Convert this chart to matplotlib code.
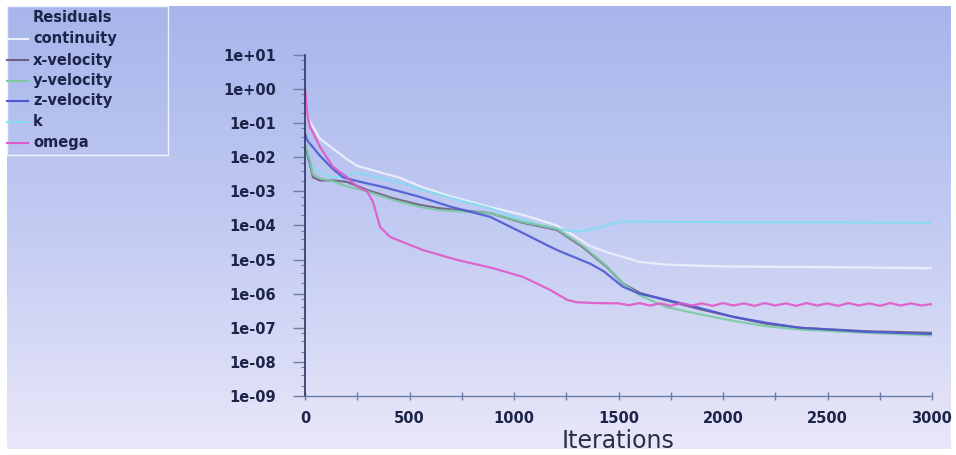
import matplotlib

matplotlib.use("Agg")
import matplotlib.pyplot as plt
import numpy as np
from matplotlib.lines import Line2D
from matplotlib.patches import Rectangle
from matplotlib.ticker import FixedLocator, LogLocator, NullFormatter

W, H = 956, 455

# residual histories (iteration, residual)
CONT_IT = [0, 10, 24, 72, 134, 200, 250, 455, 565, 700, 885, 1050, 1206, 1300, 1364,
           1450, 1521, 1603, 1732, 2000, 2500, 3000]
CONT_VAL = [4.0e-01, 1.8e-01, 1.1e-01, 3.5e-02, 1.8e-02, 8.9e-03, 5.6e-03, 2.5e-03,
            1.3e-03, 7.1e-04, 3.5e-04, 2.0e-04, 1.0e-04, 4.5e-05, 2.5e-05, 1.6e-05,
            1.2e-05, 8.5e-06, 7.1e-06, 6.3e-06, 6.0e-06, 5.6e-06]

XVEL_IT = [0, 10, 24, 38, 72, 134, 201, 297, 420, 550, 646, 885, 1043, 1206, 1330,
           1445, 1521, 1603, 1732, 1890, 2048, 2211, 2368, 2689, 3000]
XVEL_VAL = [2.0e-02, 1.35e-02, 6.3e-03, 2.6e-03, 2.1e-03, 2.1e-03, 1.9e-03, 1.1e-03,
            6.3e-04, 4.0e-04, 3.2e-04, 2.3e-04, 1.2e-04, 7.4e-05, 2.3e-05, 6.0e-06,
            2.0e-06, 1.05e-06, 6.3e-07, 3.5e-07, 2.1e-07, 1.3e-07, 1.0e-07, 7.9e-08,
            7.1e-08]

YVEL_IT = [0, 10, 24, 38, 72, 134, 201, 297, 420, 550, 646, 885, 1043, 1206, 1330,
           1445, 1521, 1603, 1732, 1890, 2048, 2211, 2368, 2689, 3000]
YVEL_VAL = [2.5e-02, 1.6e-02, 7.9e-03, 3.2e-03, 2.4e-03, 2.0e-03, 1.4e-03, 1.0e-03,
            5.6e-04, 3.5e-04, 2.8e-04, 2.3e-04, 1.26e-04, 7.9e-05, 2.5e-05, 6.3e-06,
            2.0e-06, 8.9e-07, 4.0e-07, 2.5e-07, 1.6e-07, 1.1e-07, 8.9e-08, 7.1e-08,
            6.0e-08]

ZVEL_IT = [0, 10, 24, 72, 134, 182, 250, 373, 550, 700, 885, 1043, 1150, 1206, 1300,
           1364, 1430, 1521, 1600, 1732, 1890, 2048, 2211, 2368, 2689, 3000]
ZVEL_VAL = [5.0e-02, 3.2e-02, 2.5e-02, 1.1e-02, 4.5e-03, 2.6e-03, 2.0e-03, 1.35e-03,
            6.9e-04, 3.5e-04, 1.8e-04, 6.0e-05, 2.8e-05, 1.9e-05, 1.1e-05, 7.6e-06,
            4.5e-06, 1.6e-06, 1.0e-06, 6.6e-07, 3.8e-07, 2.1e-07, 1.4e-07, 1.0e-07,
            7.6e-08, 6.6e-08]

K_IT = [0, 10, 24, 72, 134, 250, 455, 565, 700, 885, 1050, 1150, 1250, 1320, 1400,
        1460, 1520, 1600, 2000, 2500, 3000]
K_VAL = [1.6e-02, 1.0e-02, 6.3e-03, 3.5e-03, 2.5e-03, 3.5e-03, 1.8e-03, 1.1e-03,
         6.3e-04, 3.2e-04, 1.4e-04, 9.5e-05, 7.2e-05, 6.6e-05, 8.5e-05, 1.1e-04,
         1.3e-04, 1.3e-04, 1.25e-04, 1.25e-04, 1.2e-04]

OMEGA_IT = [0, 10, 24, 72, 134, 182, 201, 249, 297, 325, 359, 407, 565, 727, 900,
            1043, 1172, 1254, 1300, 1400, 1500, 1550, 1600, 1650, 1700, 1750, 1800,
            1850, 1900, 1950, 2000, 2050, 2100, 2150, 2200, 2250, 2300, 2350, 2400,
            2450, 2500, 2550, 2600, 2650, 2700, 2750, 2800, 2850, 2900, 2950, 3000]
OMEGA_VAL = [1.1e+00, 2.0e-01, 7.9e-02, 2.0e-02, 5.2e-03, 3.2e-03, 2.6e-03, 1.4e-03,
             1.0e-03, 5.0e-04, 9.1e-05, 4.6e-05, 1.9e-05, 9.8e-06, 5.6e-06, 3.1e-06,
             1.3e-06, 6.6e-07, 5.6e-07, 5.3e-07, 5.2e-07, 4.6e-07, 5.3e-07, 4.5e-07,
             5.2e-07, 4.4e-07, 5.3e-07, 4.5e-07, 5.2e-07, 4.4e-07, 5.3e-07, 4.5e-07,
             5.2e-07, 4.4e-07, 5.3e-07, 4.5e-07, 5.2e-07, 4.4e-07, 5.3e-07, 4.5e-07,
             5.2e-07, 4.4e-07, 5.3e-07, 4.5e-07, 5.2e-07, 4.4e-07, 5.3e-07, 4.5e-07,
             5.2e-07, 4.5e-07, 5.0e-07]

LABELS = ["continuity", "x-velocity", "y-velocity", "z-velocity", "k", "omega"]
COLORS = ["#eef0fb", "#6e5f80", "#7ccaa2", "#4c5ad2", "#86dcf2", "#e058c8"]

Y_TICKS = [1e1, 1e0, 1e-1, 1e-2, 1e-3, 1e-4, 1e-5, 1e-6, 1e-7, 1e-8, 1e-9]
Y_TICKLABELS = ["1e+01", "1e+00", "1e-01", "1e-02", "1e-03", "1e-04", "1e-05",
                "1e-06", "1e-07", "1e-08", "1e-09"]
X_TICKS = [0, 500, 1000, 1500, 2000, 2500, 3000]

TEXT_COLOR = "#1c2448"


def px_box(x0, y0, x1, y1):
    return [x0 / W, 1 - y1 / H, (x1 - x0) / W, (y1 - y0) / H]


def main() -> None:
    fig = plt.figure(figsize=(W / 100, H / 100), dpi=100, facecolor="white")

    # gradient panel behind everything
    bg = fig.add_axes(px_box(7, 6, 950, 449), zorder=0)
    stops = np.array([[167, 181, 235], [194, 203, 242], [233, 231, 249]]) / 255.0
    t = np.linspace(0, 1, 200)
    grad = np.stack([np.interp(t, [0, 0.5, 1], stops[:, c]) for c in range(3)], axis=1)
    bg.imshow(grad[:, None, :], aspect="auto", extent=(0, 1, 0, 1))
    bg.set_axis_off()

    ax = fig.add_axes(px_box(305, 55, 932, 396), zorder=2)
    ax.set_facecolor("none")

    series = [
        (CONT_IT, CONT_VAL),
        (XVEL_IT, XVEL_VAL),
        (YVEL_IT, YVEL_VAL),
        (ZVEL_IT, ZVEL_VAL),
        (K_IT, K_VAL),
        (OMEGA_IT, OMEGA_VAL),
    ]
    order = [0, 4, 1, 2, 3, 5]
    for i in order:
        its, vals = series[i]
        ax.plot(its, vals, color=COLORS[i], lw=1.6, alpha=0.9, solid_capstyle="round",
                solid_joinstyle="round")

    ax.set_yscale("log")
    ax.set_ylim(1e-9, 1e1)
    ax.set_xlim(0, 3000)
    ax.set_yticks(Y_TICKS)
    ax.set_yticklabels(Y_TICKLABELS)
    ax.yaxis.set_minor_locator(LogLocator(base=10, subs=(2.0, 4.0, 7.0), numticks=20))
    ax.yaxis.set_minor_formatter(NullFormatter())
    ax.set_xticks(X_TICKS)
    ax.xaxis.set_minor_locator(FixedLocator(np.arange(250, 3000, 500)))

    for side in ("top", "right"):
        ax.spines[side].set_visible(False)
    ax.spines["left"].set_color("#2c3560")
    ax.spines["left"].set_linewidth(1.2)
    ax.spines["bottom"].set_color("#6f7ea6")
    ax.spines["bottom"].set_linewidth(1.0)

    ax.tick_params(axis="y", which="major", direction="out", length=9, width=1,
                   color="#6f7ea6", pad=12, labelsize=10.5, labelcolor=TEXT_COLOR)
    ax.tick_params(axis="y", which="minor", direction="out", length=3, width=0.8,
                   color="#6f7ea6")
    ax.tick_params(axis="x", which="both", direction="inout", length=6, width=1,
                   color="#6f7ea6", pad=8, labelsize=10.5, labelcolor=TEXT_COLOR)
    for lab in ax.get_yticklabels() + ax.get_xticklabels():
        lab.set_fontweight("bold")
        lab.set_family("DejaVu Sans")

    ax.set_xlabel("Iterations", fontsize=17, color="#2a2f48", labelpad=2,
                  family="DejaVu Sans")

    # legend panel in the top-left corner
    fig.add_artist(Rectangle((7 / W, 1 - 155 / H), (168 - 7) / W, (155 - 6) / H,
                             transform=fig.transFigure, fill=False, edgecolor="white",
                             lw=1.0, alpha=0.8, zorder=3))
    fig.text(33 / W, 1 - 18 / H, "Residuals", fontsize=10.5, color=TEXT_COLOR,
             fontweight="bold", va="center", ha="left", zorder=4)
    rows_y = [39, 60, 81, 101, 122, 143]
    for label, color, y in zip(LABELS, COLORS, rows_y):
        fig.add_artist(Line2D([7 / W, 28 / W], [1 - y / H, 1 - y / H],
                              transform=fig.transFigure, color=color, lw=1.5, zorder=3))
        fig.text(33 / W, 1 - y / H, label, fontsize=10.5, color=TEXT_COLOR,
                 fontweight="bold", va="center", ha="left", zorder=4)

    fig.savefig("out.png", dpi=100, facecolor="white")


if __name__ == "__main__":
    main()
